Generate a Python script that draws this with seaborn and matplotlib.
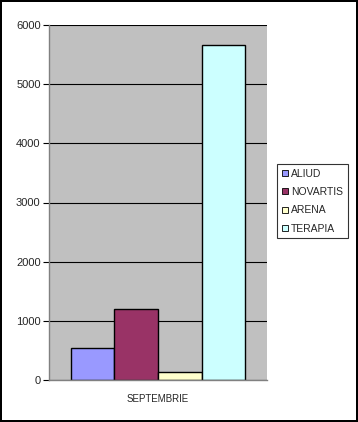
import pandas as pd
import matplotlib.pyplot as plt
import seaborn as sns

sns.set_style('white')
plt.rcParams['font.family'] = ['Liberation Sans', 'DejaVu Sans']

# data
months = ['SEPTEMBRIE']
companies = ['ALIUD', 'NOVARTIS', 'ARENA', 'TERAPIA']
values = [540, 1200, 130, 5660]
colors = ['#9999FF', '#993366', '#FFFFCC', '#CCFFFF']

df = pd.DataFrame({'month': months * len(companies),
                   'company': companies,
                   'value': values})

fig = plt.figure(figsize=(3.58, 4.22), dpi=100)
fig.patch.set_edgecolor('black')
fig.patch.set_linewidth(1.5)
ax = fig.add_axes([49 / 358, 1 - 380 / 422, 218 / 358, 355 / 422])

sns.barplot(data=df, x='month', y='value', hue='company', palette=colors,
            width=0.8, edgecolor='black', linewidth=1, saturation=1,
            ax=ax, legend=False)

ax.set_facecolor('#C0C0C0')
ax.set_ylim(0, 6000)
ax.set_xlim(-0.5, 0.5)
ax.set_yticks(range(0, 6001, 1000))
ax.yaxis.grid(True, color='black', linewidth=0.8)
ax.set_axisbelow(True)
for s in ['top', 'right']:
    ax.spines[s].set_visible(False)
for s in ['left', 'bottom']:
    ax.spines[s].set_color('#808080')
    ax.spines[s].set_linewidth(1)
ax.tick_params(axis='y', length=4, color='black', labelsize=8, pad=2, left=True)
ax.tick_params(axis='x', length=0, labelsize=7, pad=10)
ax.set_xlabel('')
ax.set_ylabel('')

handles = [plt.Line2D([], [], marker='s', linestyle='', markersize=5,
                      markerfacecolor=c, markeredgecolor='black', markeredgewidth=0.6)
           for c in colors]
leg = fig.legend(handles, companies, loc='upper left',
                 bbox_to_anchor=(277 / 358, 1 - 164 / 422),
                 fontsize=7.5, frameon=True, fancybox=False,
                 handlelength=0.6, handletextpad=0.3, labelspacing=0.8,
                 borderpad=0.45, borderaxespad=0)
leg.get_frame().set_edgecolor('black')
leg.get_frame().set_linewidth(0.8)

fig.savefig('out.png', dpi=100, edgecolor=fig.get_edgecolor())
